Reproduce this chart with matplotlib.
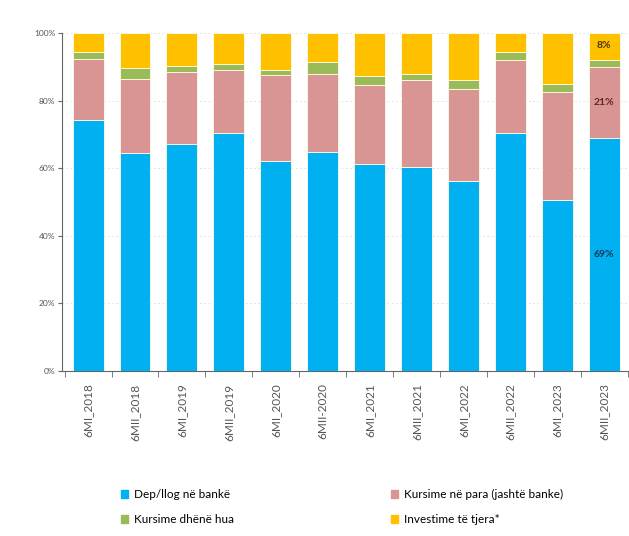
import matplotlib
matplotlib.use("Agg")
import matplotlib.pyplot as plt
import numpy as np
from matplotlib.patches import Patch

plt.rcParams['font.family'] = ['Lato', 'DejaVu Sans']

periods = ['6MI_2018', '6MII_2018', '6MI_2019', '6MII_2019', '6MI_2020', '6MII-2020',
           '6MI_2021', '6MII_2021', '6MI_2022', '6MII_2022', '6MI_2023', '6MII_2023']

# shares in percent
deposits = [74.3, 64.4, 67.2, 70.6, 62.2, 64.9, 61.2, 60.4, 56.2, 70.6, 50.6, 69.0]
cash_savings = [18.2, 21.9, 21.4, 18.6, 25.4, 23.1, 23.4, 25.7, 27.4, 21.6, 32.0, 21.0]
lent_savings = [1.8, 3.4, 1.7, 1.8, 1.6, 3.5, 2.7, 1.9, 2.5, 2.3, 2.5, 2.0]
other_invest = [5.7, 10.3, 9.7, 9.0, 10.8, 8.5, 12.7, 12.0, 13.9, 5.5, 14.9, 8.0]

names = ['Dep/llog në bankë', 'Kursime në para (jashtë banke)',
         'Kursime dhënë hua', 'Investime të tjera*']
colors = ['#00B0F0', '#D99594', '#9BBB59', '#FFC000']

fig = plt.figure(figsize=(6.29, 5.36), dpi=100)
ax = fig.add_axes([0.099, 0.308, 0.899, 0.630])

x = np.arange(len(periods))
bottom = np.zeros(len(periods))
for vals, col in zip([deposits, cash_savings, lent_savings, other_invest], colors):
    ax.bar(x, vals, 0.66, bottom=bottom, color=col, edgecolor='#FFFDE8',
           linewidth=0.6, zorder=3)
    bottom += np.array(vals)

# labels on the last bar
last = len(periods) - 1
ax.text(last, deposits[last] / 2, '69%', ha='center', va='center',
        fontsize=7.5, fontweight='bold', color='#17365D', zorder=4)
ax.text(last, deposits[last] + cash_savings[last] / 2, '21%', ha='center', va='center',
        fontsize=7.5, fontweight='bold', color='#632523', zorder=4)
ax.text(last, 100 - other_invest[last] / 2 + 0.3, '8%', ha='center', va='center',
        fontsize=7.5, fontweight='bold', color='#4A3400', zorder=4)

ax.set_xlim(-0.55, last + 0.5)
ax.set_ylim(0, 100)
ax.set_yticks(range(0, 101, 20))
ax.set_yticklabels([f'{v}%' for v in range(0, 101, 20)], fontsize=6, color='#555555')
ax.yaxis.grid(True, linestyle=(0, (2, 3)), color='#DDDDDD', linewidth=0.6, zorder=0)

ax.set_xticks(x)
ax.set_xticklabels(periods, rotation=90, fontsize=8.5, color='#555555')
ax.tick_params(axis='x', length=0, pad=9)
ax.set_xticks(np.arange(-0.5, last + 1, 1), minor=True)
ax.tick_params(axis='x', which='minor', length=4, color='#666666', direction='out')
ax.tick_params(axis='y', length=3, color='#666666', direction='out', pad=2)

for s in ['top', 'right']:
    ax.spines[s].set_visible(False)
ax.spines['left'].set_color('#666666')
ax.spines['bottom'].set_color('#666666')

handles = [Patch(color=colors[0]), Patch(color=colors[2]),
           Patch(color=colors[1]), Patch(color=colors[3])]
labels = [names[0], names[2], names[1], names[3]]
fig.legend(handles, labels, ncol=2, loc='lower left', bbox_to_anchor=(0.175, 0.0),
           frameon=False, fontsize=8.5, handlelength=0.6, handleheight=0.6,
           handletextpad=0.5, columnspacing=13.3, labelspacing=1.2)

fig.savefig('out.png', dpi=100)
